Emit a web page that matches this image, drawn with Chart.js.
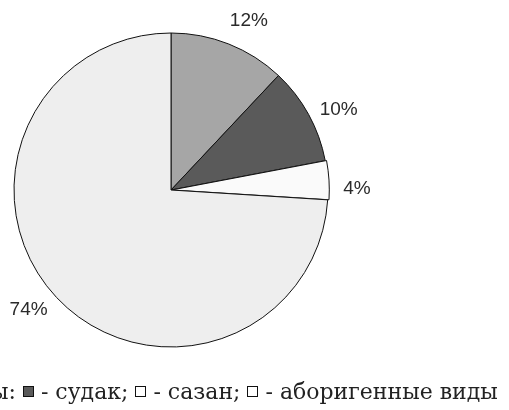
<!DOCTYPE html>
<html>
<head>
<meta charset="utf-8">
<script src="https://cdn.jsdelivr.net/npm/chart.js@4/dist/chart.umd.min.js"></script>
<style>
    html, body { margin: 0; padding: 0; background: #fff; overflow: hidden; }
    .wrap { position: relative; width: 509px; height: 410px; }
    #pie { position: absolute; left: 0; top: 0; }
    .note {
        position: absolute; left: -9px; top: 379px; white-space: nowrap;
        font-family: 'DejaVu Serif', 'Liberation Serif', serif; font-size: 22px; color: #222;
    }
    .sq { display: inline-block; width: 9px; height: 9px; border: 1px solid #111; vertical-align: 2px; }
</style>
</head>
<body>
<div class="wrap">
    <canvas id="pie" width="509" height="410"></canvas>
    <div class="note">ы: <span class="sq" style="background:#5a5a5a"></span> - судак; <span class="sq" style="background:#fff"></span> - сазан; <span class="sq" style="background:#fff"></span> - аборигенные виды</div>
</div>
<script>
    // shares, clockwise from 12 o'clock
    const categories = ['вид 1', 'судак', 'сазан', 'аборигенные виды'];
    const shares = [12, 10, 4, 74];
    const sliceColors = ['#a6a6a6', '#5a5a5a', '#fafafa', '#eeeeee'];

    // percentage labels just outside each slice
    const outsideLabels = {
        id: 'outsideLabels',
        afterDatasetsDraw(chart) {
            const ctx = chart.ctx;
            const meta = chart.getDatasetMeta(0);
            ctx.save();
            ctx.font = '19px "Liberation Sans", Arial, sans-serif';
            ctx.fillStyle = '#2a2a2a';
            ctx.textAlign = 'center';
            ctx.textBaseline = 'middle';
            meta.data.forEach((arc, i) => {
                const p = arc.getProps(['x', 'y', 'startAngle', 'endAngle', 'outerRadius'], true);
                const mid = (p.startAngle + p.endAngle) / 2 + 0.055;
                const r = p.outerRadius + 29;
                ctx.fillText(shares[i] + '%', p.x + Math.cos(mid) * r, p.y + Math.sin(mid) * r);
            });
            ctx.restore();
        }
    };

    new Chart(document.getElementById('pie'), {
        type: 'pie',
        data: {
            labels: categories,
            datasets: [{
                data: shares,
                backgroundColor: sliceColors,
                borderColor: '#111',
                borderWidth: 1,
                offset: [0, 0, 3, 0]
            }]
        },
        options: {
            responsive: false,
            animation: false,
            layout: { padding: { left: 12, top: 31, right: 179, bottom: 61 } },
            plugins: { legend: { display: false }, tooltip: { enabled: false } }
        },
        plugins: [outsideLabels]
    });
</script>
</body>
</html>
